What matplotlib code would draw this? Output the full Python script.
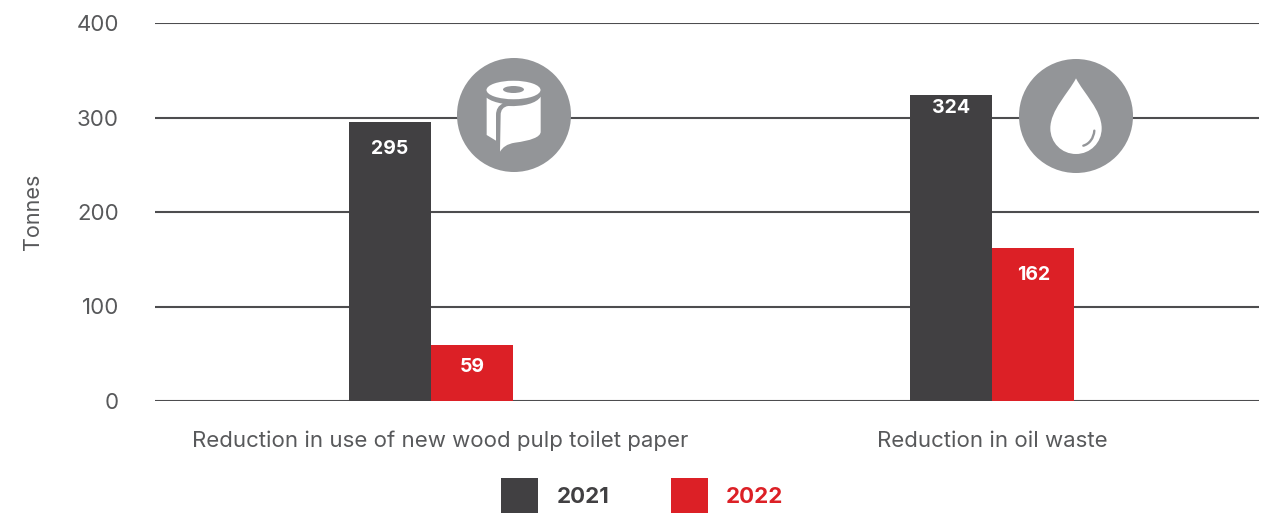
import matplotlib
matplotlib.use("Agg")
import matplotlib.pyplot as plt
from matplotlib.patches import Circle, Ellipse, PathPatch, Rectangle
from matplotlib.path import Path
import numpy as np

plt.rcParams['font.family'] = ['Inter', 'DejaVu Sans']

categories = ["Reduction in use of new wood pulp toilet paper", "Reduction in oil waste"]
years = ["2021", "2022"]
values_2021 = [295, 324]
values_2022 = [59, 162]
y_ticks = [0, 100, 200, 300, 400]

dark = "#414042"
red = "#dc2026"
grey_text = "#58595b"
icon_grey = "#939598"

W, H = 1278, 513
fig = plt.figure(figsize=(W / 100, H / 100), dpi=100)

# plot area in pixels: x 155-1259, y 23-401
ax = fig.add_axes([155 / W, 1 - 401 / H, (1259 - 155) / W, (401 - 23) / H])

x = np.arange(len(categories))
bar_w = 0.147
bars1 = ax.bar(x - bar_w / 2, values_2021, bar_w, color=dark, zorder=3)
bars2 = ax.bar(x + bar_w / 2, values_2022, bar_w, color=red, zorder=3)

ax.set_xlim(-0.492, 1.476)
ax.set_ylim(0, 400)
ax.set_yticks(y_ticks)
ax.set_xticks([])
ax.tick_params(axis='y', length=0, pad=26, labelsize=16, labelcolor=grey_text)
ax.grid(axis='y', color="#4d4d4f", lw=1.5, zorder=1)
ax.set_axisbelow(True)
for s in ax.spines.values():
    s.set_visible(False)
ax.set_ylabel("Tonnes", fontsize=15.5, color=grey_text, labelpad=24)

# value labels inside the bars
for b, v, off in zip(bars1, values_2021, [28, 14]):
    ax.text(b.get_x() + b.get_width() / 2, v - off, str(v), ha='center', va='center',
            color='white', fontsize=14, fontweight='bold', zorder=4)
for b, v, off in zip(bars2, values_2022, [23, 29]):
    ax.text(b.get_x() + b.get_width() / 2, v - off, str(v), ha='center', va='center',
            color='white', fontsize=14, fontweight='bold', zorder=4)

# overlay in pixel coordinates for icons, legend and category labels
ov = fig.add_axes([0, 0, 1, 1], zorder=5)
ov.set_xlim(0, W)
ov.set_ylim(H, 0)
ov.axis('off')
ov.patch.set_alpha(0)

ov.text(440, 441, categories[0], ha='center', va='center', fontsize=16, color=grey_text)
ov.text(992, 441, categories[1], ha='center', va='center', fontsize=16, color=grey_text)

# legend
for lx, tx, col, lab in zip([501, 671], [557, 726], [dark, red], years):
    ov.add_patch(Rectangle((lx, 478), 37, 35, color=col, lw=0))
    ov.text(tx, 497, lab, ha='left', va='center', fontsize=16, fontweight='bold', color=col)


def curve(ox, oy, verts, codes):
    pts = [(ox + a / 3, oy + b / 3) for a, b in verts]
    return Path(pts, codes)


M, L, C, Z = Path.MOVETO, Path.LINETO, Path.CURVE4, Path.CLOSEPOLY

# toilet roll icon
ov.add_patch(Circle((514, 115), 57, color=icon_grey, lw=0))
ov.add_patch(Ellipse((513.5, 90), 54, 18.5, color='white', lw=0))
ov.add_patch(Ellipse((513.5, 89.5), 21, 7, color=icon_grey, lw=0))
strip = curve(440, 50,
              [(140, 143), (140, 255), (168, 272), (168, 195), (168, 178), (176, 166), (188, 161),
               (170, 158), (150, 152), (140, 143), (140, 143)],
              [M, L, L, L, C, C, C, C, C, C, Z])
ov.add_patch(PathPatch(strip, fc='white', lw=0))
sheet = curve(440, 50,
              [(180, 305), (182, 195), (182, 180), (190, 170), (205, 168),
               (250, 170), (290, 160), (302, 140), (302, 245),
               (302, 262), (270, 272), (225, 278), (200, 282), (188, 292), (180, 305), (180, 305)],
              [M, L, C, C, C, C, C, C, L, C, C, C, C, C, C, Z])
ov.add_patch(PathPatch(sheet, fc='white', lw=0))

# oil drop icon
ov.add_patch(Circle((1076, 116), 57, color=icon_grey, lw=0))
drop = curve(1000, 50,
             [(228, 85), (205, 130), (151, 180), (151, 235), (151, 278), (185, 312), (228, 312),
              (271, 312), (305, 278), (305, 235), (305, 180), (251, 130), (228, 85), (228, 85)],
             [M, C, C, C, C, C, C, C, C, C, C, C, C, Z])
ov.add_patch(PathPatch(drop, fc='white', lw=0))
shine = curve(1000, 50, [(283, 242), (281, 265), (268, 282), (250, 287)], [M, C, C, C])
ov.add_patch(PathPatch(shine, fc='none', ec=icon_grey, lw=1.7, capstyle='round'))

fig.savefig("out.png", dpi=100)
